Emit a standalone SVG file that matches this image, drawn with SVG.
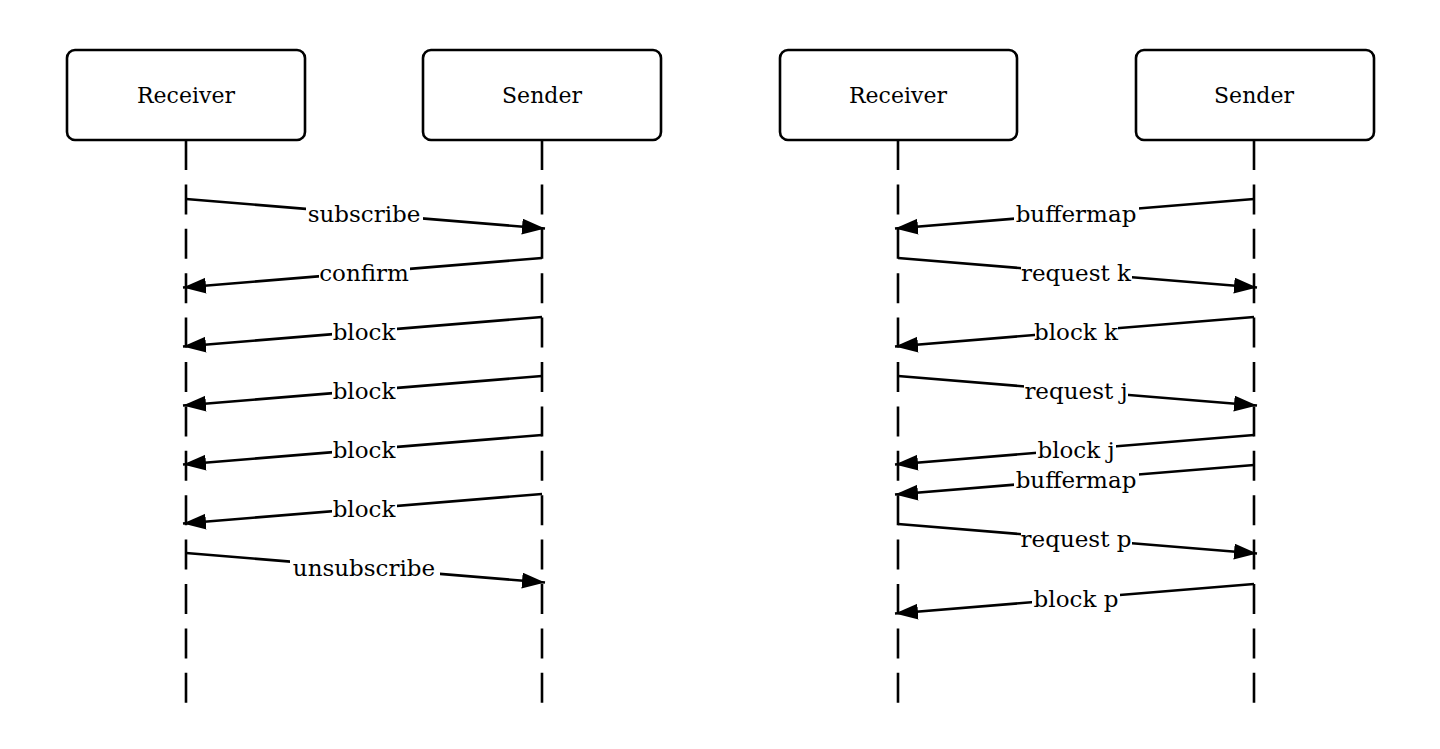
<svg xmlns="http://www.w3.org/2000/svg" width="1440" height="749" viewBox="0 0 1440 749">
<style>
.box{fill:#fff;stroke:#000;stroke-width:2.6}
.life{stroke:#000;stroke-width:2.6;stroke-dasharray:30 14.4;fill:none}
.msg{stroke:#000;stroke-width:2.6;fill:none;marker-end:url(#ah)}
.t{font-family:"DejaVu Serif","Liberation Serif",serif;font-size:22px;fill:#000;text-anchor:middle}
.l{font-size:23px}
.bg{fill:#fff}
</style>
<defs>
<marker id="ah" markerUnits="userSpaceOnUse" markerWidth="24" markerHeight="17" refX="23" refY="8" orient="auto" viewBox="0 0 24 17">
<path d="M0,0 L23,8 L0,16 z" fill="#000"/>
</marker>
</defs>
<rect width="1440" height="749" fill="#fff"/>
<g id="lifelines">
<line class="life" x1="186" y1="140" x2="186" y2="703"/>
<line class="life" x1="542" y1="140" x2="542" y2="703"/>
<line class="life" x1="898" y1="140" x2="898" y2="703"/>
<line class="life" x1="1254" y1="140" x2="1254" y2="703"/>
</g>
<g id="node-receiver-1"><rect class="box" x="67" y="50" width="238" height="90" rx="8"/><text class="t" x="186" y="103">Receiver</text></g>
<g id="node-sender-1"><rect class="box" x="423" y="50" width="238" height="90" rx="8"/><text class="t" x="542" y="103">Sender</text></g>
<g id="node-receiver-2"><rect class="box" x="780" y="50" width="237" height="90" rx="8"/><text class="t" x="898" y="103">Receiver</text></g>
<g id="node-sender-2"><rect class="box" x="1136" y="50" width="238" height="90" rx="8"/><text class="t" x="1254" y="103">Sender</text></g>
<g id="connectors">
<line class="msg" x1="186" y1="199" x2="545" y2="228.5"/>
<line class="msg" x1="542" y1="258" x2="183" y2="287.5"/>
<line class="msg" x1="542" y1="317" x2="183" y2="346.5"/>
<line class="msg" x1="542" y1="376" x2="183" y2="405.5"/>
<line class="msg" x1="542" y1="435" x2="183" y2="464.5"/>
<line class="msg" x1="542" y1="494" x2="183" y2="523.5"/>
<line class="msg" x1="186" y1="553" x2="545" y2="582.5"/>
<line class="msg" x1="1254" y1="199" x2="895" y2="228.5"/>
<line class="msg" x1="898" y1="258" x2="1257" y2="287.5"/>
<line class="msg" x1="1254" y1="317" x2="895" y2="346.5"/>
<line class="msg" x1="898" y1="376" x2="1257" y2="405.5"/>
<line class="msg" x1="1254" y1="435" x2="895" y2="464.5"/>
<line class="msg" x1="1254" y1="465" x2="895" y2="494.5"/>
<line class="msg" x1="898" y1="524" x2="1257" y2="553.5"/>
<line class="msg" x1="1254" y1="584" x2="895" y2="613.5"/>
</g>
<g id="labels">
<rect class="bg" x="306" y="202" width="117" height="24"/><text class="t l" x="364" y="222">subscribe</text>
<rect class="bg" x="319" y="261" width="91" height="24"/><text class="t l" x="364" y="281">confirm</text>
<rect class="bg" x="332" y="320" width="65" height="24"/><text class="t l" x="364" y="340">block</text>
<rect class="bg" x="332" y="379" width="65" height="24"/><text class="t l" x="364" y="399">block</text>
<rect class="bg" x="332" y="438" width="65" height="24"/><text class="t l" x="364" y="458">block</text>
<rect class="bg" x="332" y="497" width="65" height="24"/><text class="t l" x="364" y="517">block</text>
<rect class="bg" x="290" y="556" width="150" height="24"/><text class="t l" x="364" y="576">unsubscribe</text>
<rect class="bg" x="1014" y="202" width="125" height="24"/><text class="t l" x="1076" y="222">buffermap</text>
<rect class="bg" x="1021" y="261" width="111" height="24"/><text class="t l" x="1076" y="281">request k</text>
<rect class="bg" x="1035" y="320" width="83" height="24"/><text class="t l" x="1076" y="340">block k</text>
<rect class="bg" x="1024" y="379" width="104" height="24"/><text class="t l" x="1076" y="399">request j</text>
<rect class="bg" x="1036" y="438" width="80" height="24"/><text class="t l" x="1076" y="458">block j</text>
<rect class="bg" x="1014" y="468" width="125" height="24"/><text class="t l" x="1076" y="488">buffermap</text>
<rect class="bg" x="1021" y="527" width="111" height="24"/><text class="t l" x="1076" y="547">request p</text>
<rect class="bg" x="1032" y="587" width="88" height="24"/><text class="t l" x="1076" y="607">block p</text>
</g>
</svg>
